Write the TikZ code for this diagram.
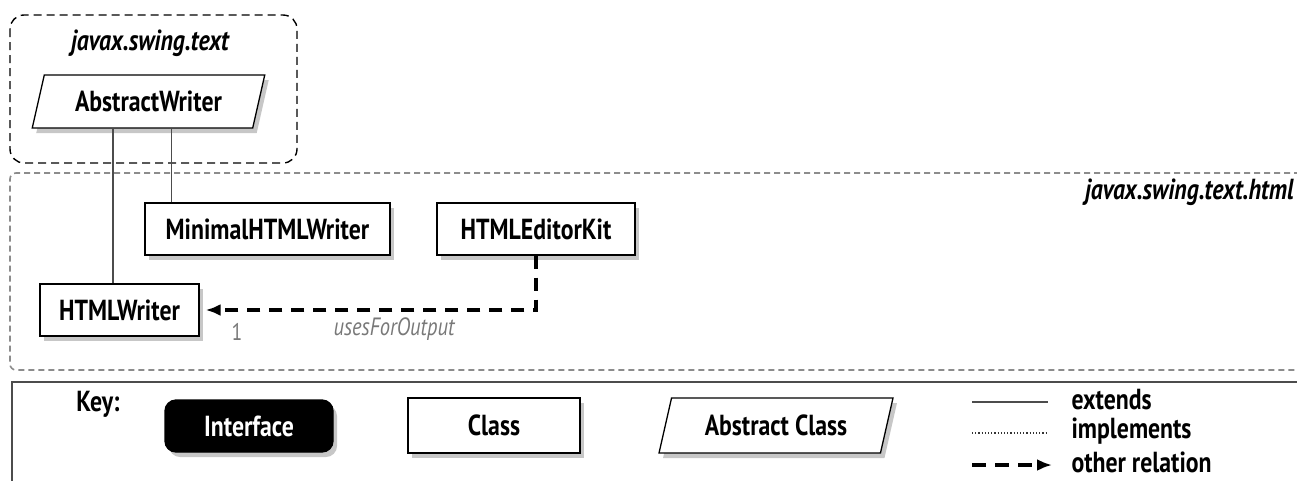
\documentclass[tikz,border=0pt]{standalone}
\usepackage{fontspec}
\setmainfont{PT Sans}[FakeStretch=0.82]
\usetikzlibrary{arrows.meta,calc,positioning,shapes.geometric,shadows}
\definecolor{pkgline}{RGB}{140,140,140}
\definecolor{lblgrey}{RGB}{120,120,120}

\begin{document}
\begin{tikzpicture}[x=1pt,y=-1pt,>={Latex[length=15pt,width=12pt]},
	font=\fontsize{29}{33}\selectfont\bfseries,
	classbox/.style={draw,line width=1.3pt,fill=white,inner sep=0pt,minimum width=#1,minimum height=53pt,
		drop shadow={shadow xshift=4pt,shadow yshift=-5pt,fill=black!40,opacity=.55}},
	absbox/.style={classbox=#1,trapezium,trapezium left angle=68,trapezium right angle=112,trapezium stretches},
	ifacebox/.style={classbox=#1,fill=black,text=white,rounded corners=11pt},
	pkgname/.style={font=\fontsize{29}{33}\selectfont\bfseries\itshape},
	extline/.style={line width=1.6pt,black!70},
	relation/.style={->,line width=3.6pt,dash pattern=on 13pt off 9pt}]
		\useasboundingbox (0,0) rectangle (1297,480);
		% 包 javax.swing.text
		\draw[rounded corners=14pt,line width=1.4pt,dash pattern=on 8pt off 5pt] (10,15) rectangle (297,163);
		\node[pkgname] (pkgA) at (150,43) {javax.swing.text};
		\node[absbox=233pt] (AW) at (148.5,101.5) {AbstractWriter};
		% 包 javax.swing.text.html
		\draw[rounded corners=6pt,line width=1.6pt,pkgline,dash pattern=on 6pt off 4pt] (1310,173) -- (10,173) -- (10,370) -- (1310,370);
		\node[pkgname,anchor=east] (pkgB) at (1297,192) {javax.swing.text.html};
		\node[classbox=245pt,minimum height=52pt] (MW) at (267.5,229) {MinimalHTMLWriter};
		\node[classbox=198pt,minimum height=52pt] (HEK) at (536,229) {HTMLEditorKit};
		\node[classbox=159pt,minimum height=52pt] (HW) at (119.5,310) {HTMLWriter};
		\draw[extline] ([xshift=27pt]MW.north west) -- ([xshift=27pt]MW.north west |- AW.south);
		\draw[extline] ([xshift=-6.5pt]HW.north) -- ([xshift=-6.5pt]HW.north |- AW.south);
		\draw[relation,shorten >=6pt] (HEK.south) |- (HW.east);
		\node[text=lblgrey,font=\fontsize{24}{26}\selectfont] (mult) at (237,332) {1};
		\node[text=lblgrey,font=\fontsize{25}{28}\selectfont\itshape] (role) at (394,329) {usesForOutput};
		% 图例
		\draw[line width=1.5pt,black!70] (12,490) -- (12,382) -- (1310,382);
		\node (key) at (98,404) {Key:};
		\node[ifacebox=168pt,minimum height=52pt] (IF) at (249,426) {Interface};
		\node[classbox=172pt,minimum height=55pt] (CL) at (494,425.5) {Class};
		\node[absbox=234pt,minimum height=55pt] (AC) at (776,425.5) {Abstract Class};
		\node[anchor=west] (ext) at (1068,400) {extends};
		\node[anchor=west] (impl) at (1068,431) {implements};
		\node[anchor=west] (oth) at (1068,462) {other relation};
		\draw[extline] (972,402) -- (1048,402);
		\draw[line width=1.2pt,black!80,dash pattern=on 1.2pt off 2pt] (972,433) -- (1048,433);
		\draw[->,line width=3.6pt,dash pattern=on 14pt off 9pt] (972,465) -- (1052,465);
\end{tikzpicture}
\end{document}
